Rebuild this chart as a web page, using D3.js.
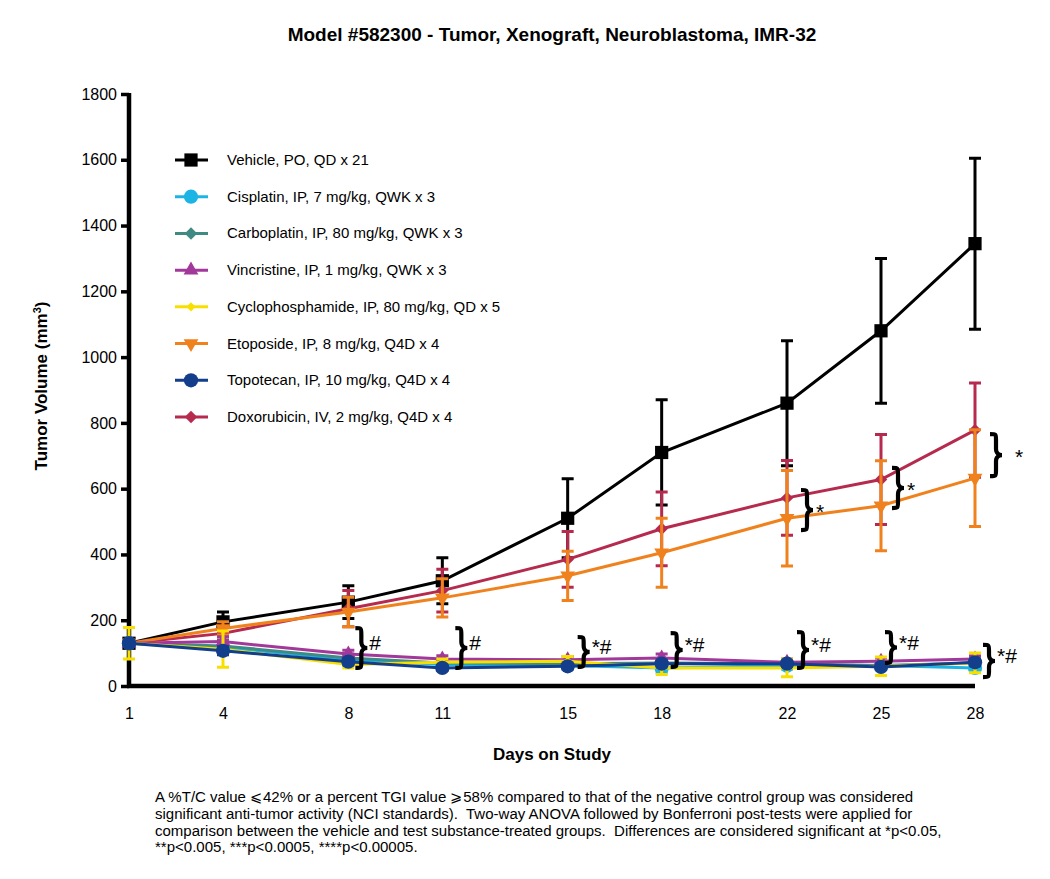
<!DOCTYPE html>
<html>
<head>
<meta charset="utf-8">
<script src="https://cdn.jsdelivr.net/npm/d3@7"></script>
<style>
    body { margin: 0; background: #fff; }
    svg text { font-family: "Liberation Sans", Arial, sans-serif; }
    .foot { font-size: 15.5px; white-space: pre; }
</style>
</head>
<body>
<div id="chart"></div>
<script>
var days = [1, 4, 8, 11, 15, 18, 22, 25, 28];
var yTicks = [0, 200, 400, 600, 800, 1000, 1200, 1400, 1600, 1800];

var groupNames = [
    "Vehicle, PO, QD x 21",
    "Cisplatin, IP, 7 mg/kg, QWK x 3",
    "Carboplatin, IP, 80 mg/kg, QWK x 3",
    "Vincristine, IP, 1 mg/kg, QWK x 3",
    "Cyclophosphamide, IP, 80 mg/kg, QD x 5",
    "Etoposide, IP, 8 mg/kg, Q4D x 4",
    "Topotecan, IP, 10 mg/kg, Q4D x 4",
    "Doxorubicin, IV, 2 mg/kg, Q4D x 4"
];

// mean tumor volume per day (mm3)
var vehicleMean = [130, 195, 255, 320, 510, 710, 860, 1080, 1345];
var cisplatinMean = [130, 118, 80, 65, 62, 55, 62, 62, 55];
var carboplatinMean = [130, 122, 85, 70, 68, 70, 68, 62, 70];
var vincristineMean = [130, 135, 97, 82, 80, 85, 72, 75, 82];
var cyclophosphamideMean = [130, 112, 65, 72, 75, 55, 55, 60, 70];
var etoposideMean = [130, 175, 225, 268, 335, 405, 510, 548, 632];
var topotecanMean = [130, 107, 74, 55, 60, 68, 68, 58, 72];
var doxorubicinMean = [130, 160, 235, 290, 385, 478, 572, 628, 778];

// SEM per day
var vehicleErr = [10, 30, 50, 70, 120, 160, 190, 220, 260];
var cisplatinErr = [10, 15, 12, 10, 10, 14, 10, 10, 12];
var carboplatinErr = [10, 15, 12, 10, 10, 10, 10, 10, 10];
var vincristineErr = [10, 15, 12, 10, 10, 12, 10, 10, 10];
var cyclophosphamideErr = [48, 55, 10, 10, 15, 20, 27, 28, 30];
var etoposideErr = [10, 20, 45, 58, 75, 105, 145, 137, 147];
var topotecanErr = [10, 12, 10, 8, 8, 10, 8, 8, 10];
var doxorubicinErr = [10, 20, 55, 65, 85, 112, 114, 137, 143];

// significance braces: day, low/high value, label
var braceDays = [8, 11, 15, 18, 22, 25, 28, 22, 25, 28];
var braceLow = [55, 55, 58, 58, 55, 70, 27, 474, 541, 638];
var braceHigh = [176, 176, 149, 161, 164, 164, 125, 596, 663, 766];
var braceLabels = ["#", "#", "*#", "*#", "*#", "*#", "*#", "*", "*", "*"];

var footnote = [
    "A %T/C value \u2A7D42% or a percent TGI value \u2A7E58% compared to that of the negative control group was considered",
    "significant anti-tumor activity (NCI standards).  Two-way ANOVA followed by Bonferroni post-tests were applied for",
    "comparison between the vehicle and test substance-treated groups.  Differences are considered significant at *p<0.05,",
    "**p<0.005, ***p<0.0005, ****p<0.00005."
];

var series = [
    { name: groupNames[0], mean: vehicleMean, err: vehicleErr, color: "#000000", shape: "square" },
    { name: groupNames[7], mean: doxorubicinMean, err: doxorubicinErr, color: "#b52a4d", shape: "diamond" },
    { name: groupNames[5], mean: etoposideMean, err: etoposideErr, color: "#f0821e", shape: "down" },
    { name: groupNames[1], mean: cisplatinMean, err: cisplatinErr, color: "#1bb4e4", shape: "circle" },
    { name: groupNames[2], mean: carboplatinMean, err: carboplatinErr, color: "#3f8b83", shape: "diamond" },
    { name: groupNames[3], mean: vincristineMean, err: vincristineErr, color: "#a2399a", shape: "up" },
    { name: groupNames[4], mean: cyclophosphamideMean, err: cyclophosphamideErr, color: "#f7e000", shape: "smalldiamond" },
    { name: groupNames[6], mean: topotecanMean, err: topotecanErr, color: "#133e8b", shape: "circle" }
];

var width = 1050,
    height = 879,
    margin = { top: 94, left: 129, right: 75, bottom: 193 };

var svg = d3.select("#chart").append("svg")
    .attr("width", width)
    .attr("height", height);

var x = d3.scaleLinear().domain([1, 28]).range([margin.left, width - margin.right]);
var y = d3.scaleLinear().domain([0, 1800]).range([height - margin.bottom, margin.top]);

function symbolPath(shape) {
    var s;
    if (shape === "square") {
        s = d3.symbol(d3.symbolSquare, 175);
    } else if (shape === "circle") {
        s = d3.symbol(d3.symbolCircle, 160);
    } else if (shape === "diamond") {
        s = d3.symbol(d3.symbolSquare, 78);
    } else if (shape === "smalldiamond") {
        s = d3.symbol(d3.symbolSquare, 42);
    } else {
        s = d3.symbol(d3.symbolTriangle, 95);
    }
    return s();
}

function symbolRotate(shape) {
    if (shape === "down") {
        return " rotate(180)";
    }
    if (shape === "diamond" || shape === "smalldiamond") {
        return " rotate(45)";
    }
    return "";
}

function bracePath(x0, y0, y1, w) {
    var h = w / 2,
        mid = (y0 + y1) / 2;
    return "M" + x0 + "," + y0 +
        "C" + (x0 + h) + "," + y0 + " " + (x0 + h) + "," + y0 + " " + (x0 + h) + "," + (y0 + h) +
        "L" + (x0 + h) + "," + (mid - h) +
        "C" + (x0 + h) + "," + mid + " " + (x0 + w) + "," + mid + " " + (x0 + w) + "," + mid +
        "C" + (x0 + w) + "," + mid + " " + (x0 + h) + "," + mid + " " + (x0 + h) + "," + (mid + h) +
        "L" + (x0 + h) + "," + (y1 - h) +
        "C" + (x0 + h) + "," + y1 + " " + (x0 + h) + "," + y1 + " " + x0 + "," + y1;
}

// title
svg.append("text")
    .attr("x", 552)
    .attr("y", 41)
    .attr("text-anchor", "middle")
    .style("font-size", "19px")
    .style("font-weight", "bold")
    .text("Model #582300 - Tumor, Xenograft, Neuroblastoma, IMR-32");

// axes
var yAxis = d3.axisLeft(y).tickValues(yTicks).tickSize(8).tickPadding(4).tickFormat(d3.format("d"));
var gy = svg.append("g")
    .attr("transform", "translate(" + margin.left + ",0)")
    .call(yAxis);
gy.select(".domain").attr("stroke-width", 4.5).attr("d", "M0," + (y(1800) - 1) + "V" + (y(0) + 2));
gy.selectAll(".tick line").attr("stroke-width", 3.5);
gy.selectAll(".tick text").style("font-size", "16px").attr("fill", "#000");

var xAxis = d3.axisBottom(x).tickValues(days).tickSize(0).tickPadding(22);
var gx = svg.append("g")
    .attr("transform", "translate(0," + y(0) + ")")
    .call(xAxis);
gx.select(".domain").attr("stroke-width", 4.5).attr("d", "M" + (x(1) - 2) + ",0H" + x(28));
gx.selectAll(".tick text").style("font-size", "16px").attr("fill", "#000");
gx.attr("font-family", null);
gy.attr("font-family", null);

// axis titles
svg.append("text")
    .attr("x", 552)
    .attr("y", 760)
    .attr("text-anchor", "middle")
    .style("font-size", "17px")
    .style("font-weight", "bold")
    .text("Days on Study");

var yl = svg.append("text")
    .attr("transform", "translate(47," + 386 + ") rotate(-90)")
    .attr("text-anchor", "middle")
    .style("font-size", "17px")
    .style("font-weight", "bold");
yl.append("tspan").text("Tumor Volume (mm");
yl.append("tspan").attr("baseline-shift", "super").style("font-size", "11px").text("3");
yl.append("tspan").text(")");

// series
var line = d3.line()
    .x(function (d) { return x(d.day); })
    .y(function (d) { return y(d.v); });

series.forEach(function (s) {
    var pts = days.map(function (d, i) {
        return { day: d, v: s.mean[i], e: s.err[i] };
    });
    var g = svg.append("g").attr("class", "series");

    g.selectAll(".err")
        .data(pts)
        .enter()
        .append("path")
        .attr("fill", "none")
        .attr("stroke", s.color)
        .attr("stroke-width", 3)
        .attr("d", function (d) {
            var cx = x(d.day), c = 6;
            return "M" + cx + "," + y(d.v - d.e) + "V" + y(d.v + d.e) +
                "M" + (cx - c) + "," + y(d.v + d.e) + "H" + (cx + c) +
                "M" + (cx - c) + "," + y(d.v - d.e) + "H" + (cx + c);
        });

    g.append("path")
        .datum(pts)
        .attr("fill", "none")
        .attr("stroke", s.color)
        .attr("stroke-width", 3)
        .attr("d", line);

    g.selectAll(".mark")
        .data(pts)
        .enter()
        .append("path")
        .attr("fill", s.color)
        .attr("transform", function (d) {
            return "translate(" + x(d.day) + "," + y(d.v) + ")" + symbolRotate(s.shape);
        })
        .attr("d", symbolPath(s.shape));
});

// significance braces
var braceOffsets = [7, 13, 10, 9, 10, 4, 8, 14, 11, 15];
braceDays.forEach(function (d, i) {
    var bx = x(d) + braceOffsets[i],
        top = y(braceHigh[i]),
        bot = y(braceLow[i]);
    svg.append("path")
        .attr("fill", "none")
        .attr("stroke", "#000")
        .attr("stroke-width", 4.2)
        .attr("d", bracePath(bx, top, bot, 12));
    svg.append("text")
        .attr("x", bx + (i >= 7 ? (i === 9 ? 25 : 15) : 14))
        .attr("y", (top + bot) / 2 + (i >= 7 ? 9 : 2))
        .style("font-size", "21px")
        .text(braceLabels[i]);
});

// legend
var legendY = d3.scalePoint().domain(groupNames).range([160, 417]);
var legend = svg.append("g").attr("class", "legend");
groupNames.forEach(function (name) {
    var s = series.filter(function (d) { return d.name === name; })[0],
        ly = legendY(name);
    legend.append("line")
        .attr("x1", 175).attr("x2", 208)
        .attr("y1", ly).attr("y2", ly)
        .attr("stroke", s.color)
        .attr("stroke-width", 3);
    legend.append("path")
        .attr("fill", s.color)
        .attr("transform", "translate(191," + ly + ")" + symbolRotate(s.shape))
        .attr("d", symbolPath(s.shape));
    legend.append("text")
        .attr("x", 227)
        .attr("y", ly + 5)
        .style("font-size", "15px")
        .text(name);
});

// footnote
svg.append("g")
    .attr("transform", "translate(155,0) scale(0.97,1)")
    .selectAll("text")
    .data(footnote)
    .enter()
    .append("text")
    .attr("class", "foot")
    .attr("x", 0)
    .attr("y", function (d, i) { return 802 + i * 16.8; })
    .text(function (d) { return d; });
</script>
</body>
</html>
